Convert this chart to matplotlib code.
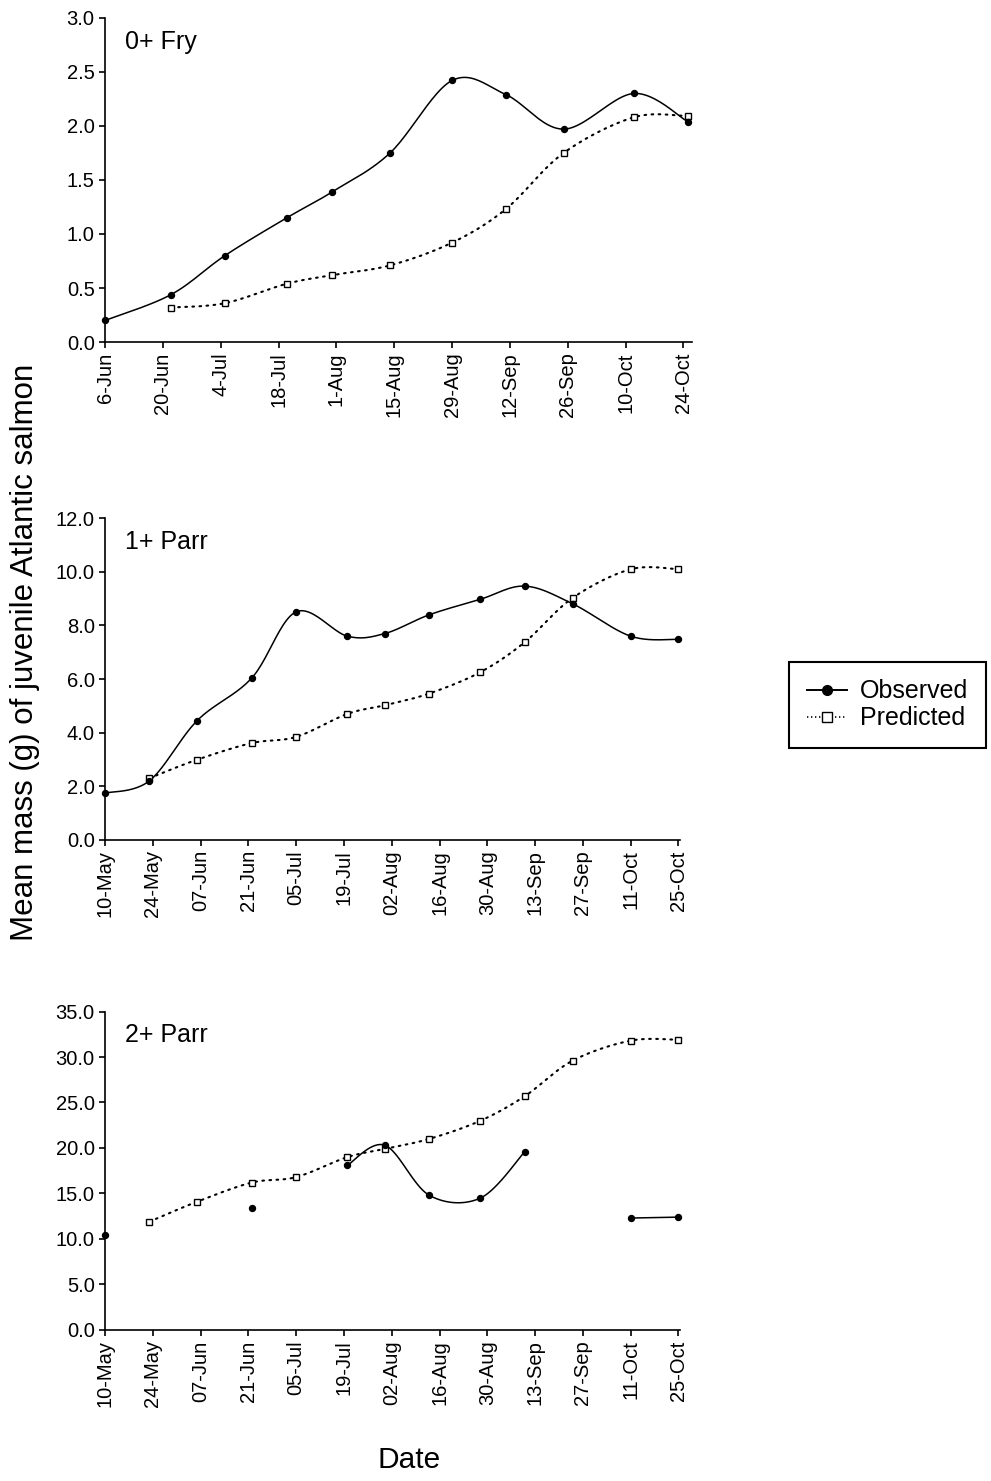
import numpy as np
import matplotlib
matplotlib.use("Agg")
import matplotlib.pyplot as plt
import matplotlib.dates as mdates
from matplotlib.lines import Line2D

plt.rcParams['font.family'] = ['Liberation Sans', 'DejaVu Sans']

# sampling dates and mean mass (g) for each age class
fry_dates = ['2002-06-06', '2002-06-22', '2002-07-05', '2002-07-20', '2002-07-31',
             '2002-08-14', '2002-08-29', '2002-09-11', '2002-09-25', '2002-10-12',
             '2002-10-25']
fry_obs = [0.20, 0.44, 0.80, 1.15, 1.39, 1.75, 2.42, 2.29, 1.97, 2.30, 2.04]
fry_pred = [np.nan, 0.32, 0.36, 0.54, 0.62, 0.71, 0.92, 1.23, 1.75, 2.08, 2.09]

parr_dates = ['2002-05-10', '2002-05-23', '2002-06-06', '2002-06-22', '2002-07-05',
              '2002-07-20', '2002-07-31', '2002-08-13', '2002-08-28', '2002-09-10',
              '2002-09-24', '2002-10-11', '2002-10-25']
parr1_obs = [1.74, 2.20, 4.45, 6.04, 8.51, 7.60, 7.70, 8.40, 8.98, 9.47, 8.81, 7.60, 7.48]
parr1_pred = [np.nan, 2.30, 2.99, 3.61, 3.84, 4.70, 5.02, 5.46, 6.26, 7.38, 9.03, 10.10, 10.10]
parr2_obs = [10.4, np.nan, np.nan, 13.4, np.nan, 18.1, 20.3, 14.8, 14.5, 19.6, np.nan, 12.3, 12.4]
parr2_pred = [np.nan, 11.9, 14.1, 16.2, 16.8, 19.0, 19.9, 21.0, 23.0, 25.7, 29.6, 31.8, 31.9]

panel_titles = ['0+ Fry', '1+ Parr', '2+ Parr']

DOTS = (0, (0.8, 2.6))


def smooth(x, y, n=25):
    # Bezier smoothing through the points, like a spreadsheet "smoothed line"
    pts = np.column_stack([x, y])
    if len(pts) < 3:
        return pts[:, 0], pts[:, 1]
    out = [pts[0]]
    t = np.linspace(0, 1, n)[1:][:, None]
    for i in range(len(pts) - 1):
        p0 = pts[max(i - 1, 0)]
        p1 = pts[i]
        p2 = pts[i + 1]
        p3 = pts[min(i + 2, len(pts) - 1)]
        c1 = p1 + (p2 - p0) / 6
        c2 = p2 - (p3 - p1) / 6
        seg = (1 - t) ** 3 * p1 + 3 * (1 - t) ** 2 * t * c1 + 3 * (1 - t) * t ** 2 * c2 + t ** 3 * p2
        out.extend(seg)
    out = np.array(out)
    return out[:, 0], out[:, 1]


def draw_series(ax, x, y, ls, lw, marker, mfc, ms):
    y = np.asarray(y, dtype=float)
    ok = ~np.isnan(y)
    # split into runs of consecutive values; gaps break the line
    idx = np.where(ok)[0]
    runs = np.split(idx, np.where(np.diff(idx) > 1)[0] + 1)
    for r in runs:
        if len(r) > 1:
            sx, sy = smooth(x[r], y[r])
            ax.plot(sx, sy, color='black', lw=lw, linestyle=ls,
                    dash_capstyle='round', clip_on=False, zorder=2)
    ax.plot(x[ok], y[ok], linestyle='none', marker=marker, ms=ms, mfc=mfc,
            mec='black', mew=1.0, clip_on=False, zorder=3)


def panel(ax, dates, obs, pred, title, start, end, ymax, ystep, fmt, xmax):
    x = mdates.date2num(np.array(dates, dtype='datetime64[D]'))
    draw_series(ax, x, pred, DOTS, 1.5, 's', 'white', 4.3)
    draw_series(ax, x, obs, '-', 1.1, 'o', 'black', 4.3)

    ticks = np.arange(np.datetime64(start), np.datetime64(end) + 1, 14)
    ax.set_xticks(mdates.date2num(ticks))
    ax.xaxis.set_major_formatter(mdates.DateFormatter(fmt))
    ax.set_xlim(mdates.date2num(np.datetime64(start)), mdates.date2num(np.datetime64(end)) + xmax)
    ax.set_ylim(0, ymax)
    ax.set_yticks(np.arange(0, ymax + ystep / 2, ystep))
    ax.yaxis.set_major_formatter(matplotlib.ticker.FormatStrFormatter('%.1f'))
    for s in ['top', 'right']:
        ax.spines[s].set_visible(False)
    for s in ['left', 'bottom']:
        ax.spines[s].set_linewidth(1.2)
    ax.tick_params(direction='out', length=4.5, width=1.2, labelsize=14.5, pad=3)
    ax.tick_params(axis='x', labelrotation=90)
    ax.text(0.034, 0.905, title, transform=ax.transAxes, fontsize=18, va='baseline')


fig = plt.figure(figsize=(9.91, 14.81), dpi=100)
ax1 = fig.add_axes([0.106, 0.769, 0.592, 0.219])
ax2 = fig.add_axes([0.106, 0.433, 0.580, 0.217])
ax3 = fig.add_axes([0.106, 0.102, 0.580, 0.215])

panel(ax1, fry_dates, fry_obs, fry_pred, panel_titles[0],
      '2002-06-06', '2002-10-24', 3.0, 0.5, '%-d-%b', 2)
panel(ax2, parr_dates, parr1_obs, parr1_pred, panel_titles[1],
      '2002-05-10', '2002-10-25', 12.0, 2.0, '%d-%b', 0.4)
panel(ax3, parr_dates, parr2_obs, parr2_pred, panel_titles[2],
      '2002-05-10', '2002-10-25', 35.0, 5.0, '%d-%b', 0.4)

fig.text(0.025, 0.5595, 'Mean mass (g) of juvenile Atlantic salmon', rotation=90,
         fontsize=22.5, ha='center', va='center')
fig.text(0.413, 0.009, 'Date', fontsize=21.5, ha='center', va='baseline')

handles = [Line2D([], [], color='black', lw=1.4, marker='o', ms=7, mfc='black', mec='black'),
           Line2D([], [], color='black', lw=1.2, linestyle=(0, (0.8, 1.6)), marker='s', ms=6.5,
                  mfc='white', mec='black', mew=1.0)]
leg = fig.legend(handles, ['Observed', 'Predicted'], loc='center',
                 bbox_to_anchor=(0.8956, 0.524), fontsize=18, fancybox=False,
                 edgecolor='black', framealpha=1, handlelength=1.6, handletextpad=0.55,
                 labelspacing=0.12, borderpad=0.7, borderaxespad=0, numpoints=1)
leg.get_frame().set_linewidth(1.5)

fig.savefig('out.png', dpi=100)
